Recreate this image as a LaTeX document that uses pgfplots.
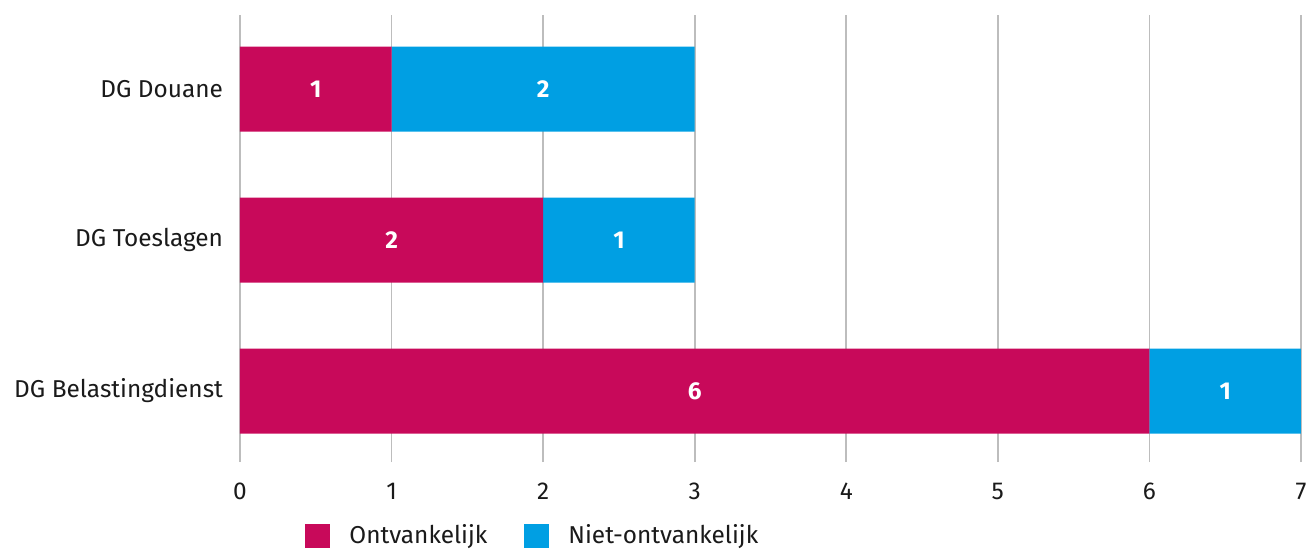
\documentclass[border=0pt]{standalone}
\usepackage{fontspec}
\setmainfont{Fira Sans}
\usepackage{pgfplots}
\usepackage{pgfplotstable}
\pgfplotsset{compat=1.18}
\definecolor{ontv}{HTML}{C8095A}
\definecolor{niet}{HTML}{009FE3}
\definecolor{gridc}{HTML}{BDBDBD}
\definecolor{ink}{HTML}{1A1A1A}
\pgfplotstableread{
pos ontv niet
0   6    1
1   2    1
2   1    2
}\klachten
\begin{document}
\begin{tikzpicture}
\begin{axis}[
  name=ax,
  xbar stacked, bar width=42.5pt,
  width=530.5pt, height=223.5pt, scale only axis,
  xmin=0, xmax=7, ymin=-0.47, ymax=2.49,
  xtick={0,...,7},
  ytick={0,1,2},
  yticklabels={DG Belastingdienst, DG Toeslagen, DG Douane},
  axis line style={draw=none},
  major tick length=0pt,
  xmajorgrids, grid style={color=gridc, line width=0.8pt},
  tick label style={font=\fontsize{12.2}{14}\selectfont\color{ink}},
  /pgf/number format/assume math mode=true,
  yticklabel style={xshift=-5pt},
  xticklabel style={yshift=-7pt},
  point meta=explicit,
  nodes near coords={\pgfmathprintnumber{\pgfplotspointmeta}},
  every node near coord/.append style={anchor=center, text=white,
    font=\fontsize{12.2}{14}\selectfont\bfseries},
  legend style={at={(0.0613,-0.13)}, anchor=north west, draw=none,
    inner sep=0pt, legend columns=2,
    font=\fontsize{12.2}{14}\selectfont\color{ink},
    /tikz/every even column/.append style={column sep=16.5pt}},
  legend image code/.code={\fill[#1,draw=none] (0pt,-6pt) rectangle (12.5pt,6pt); \path (20pt,0pt);},
  legend cell align=left,
]
\addplot[fill=ontv, draw=none] table[x=ontv, y=pos, meta=ontv] {\klachten};
\addplot[fill=niet, draw=none] table[x=niet, y=pos, meta=niet] {\klachten};
\legend{Ontvankelijk, Niet-ontvankelijk}
\end{axis}
\pgfresetboundingbox
\path[use as bounding box] ([shift={(-120pt,-43pt)}]ax.south west) rectangle ([shift={(537.5pt,231pt)}]ax.south west);
\end{tikzpicture}
\end{document}
